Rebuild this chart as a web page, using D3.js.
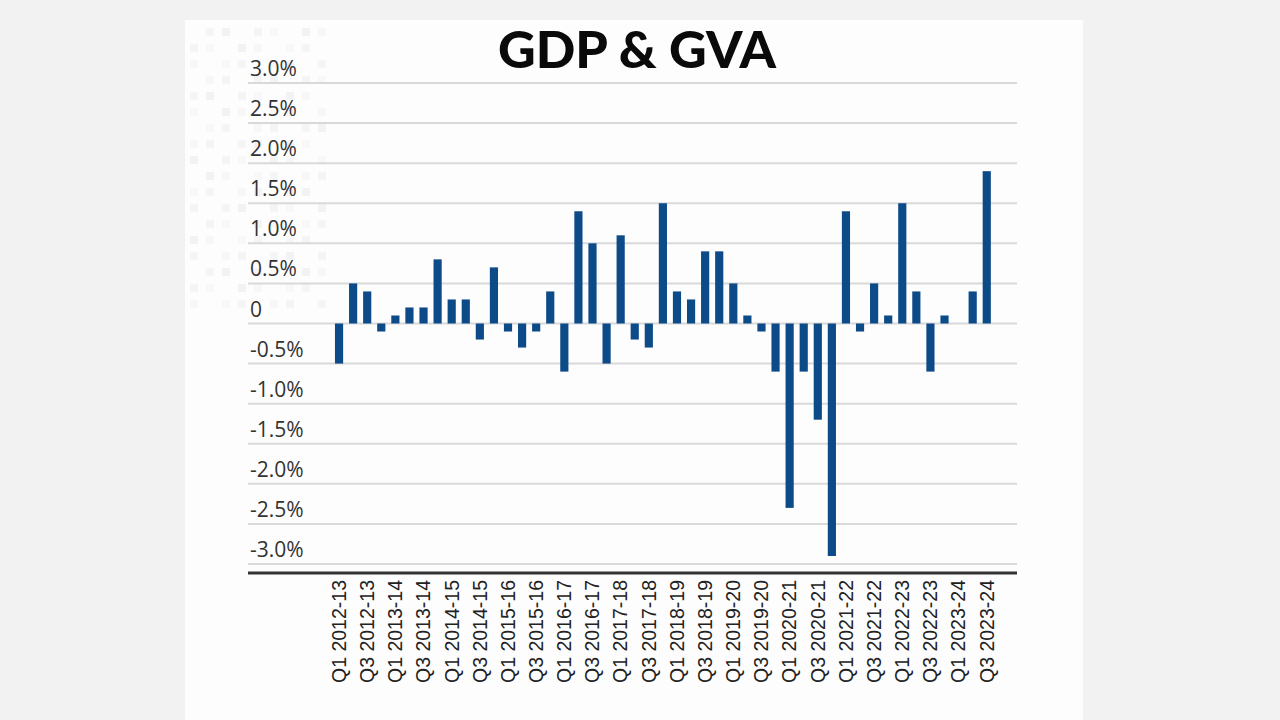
<!DOCTYPE html>
<html><head><meta charset="utf-8">
<script src="https://cdn.jsdelivr.net/npm/d3@7"></script>
<style>
html,body{margin:0;padding:0;background:#f2f2f2;}
svg{display:block;}
</style></head>
<body>
<svg id="chart" width="1280" height="720"></svg>
<script>
// ---- data ----
const title = "GDP & GVA";
const fiscalYears = ["2012-13","2013-14","2014-15","2015-16","2016-17","2017-18","2018-19","2019-20","2020-21","2021-22","2022-23","2023-24"];
const quarterNames = ["Q1","Q2","Q3","Q4"];
const values = [-0.5,0.5,0.4,-0.1,0.1,0.2,0.2,0.8,0.3,0.3,-0.2,0.7,-0.1,-0.3,-0.1,0.4,
  -0.6,1.4,1.0,-0.5,1.1,-0.2,-0.3,1.5,0.4,0.3,0.9,0.9,0.5,0.1,-0.1,-0.6,
  -2.3,-0.6,-1.2,-2.9,1.4,-0.1,0.5,0.1,1.5,0.4,-0.6,0.1,0,0.4,1.9];
const yTicks = [-3,-2.5,-2,-1.5,-1,-0.5,0,0.5,1,1.5,2,2.5,3];

const categories = [];
fiscalYears.forEach(fy => quarterNames.forEach(q => categories.push(q + " " + fy)));
const cats = categories.slice(0, values.length);
const data = cats.map((c,i)=>({cat:c, v:values[i]}));
const tickCats = cats.filter(c => c.startsWith("Q1") || c.startsWith("Q3"));

const svg = d3.select("#chart");

// background panel
svg.append("rect").attr("x",0).attr("y",0).attr("width",1280).attr("height",720).attr("fill","#f2f2f2");
svg.append("rect").attr("x",185).attr("y",20).attr("width",898).attr("height",700).attr("fill","#fdfdfd");

// faint dot texture top-left
const dots = svg.append("g").attr("fill","#f1f1f1");
for (let gx=0; gx<9; gx++) for (let gy=0; gy<18; gy++) {
  if ((gx+gy)%3===0) continue;
  dots.append("rect").attr("x",190+gx*16).attr("y",28+gy*16).attr("width",8).attr("height",8).attr("opacity", 0.4 + 0.6*((gx*7+gy*3)%5)/5);
}

const y = d3.scaleLinear().domain([-3,3]).range([564,83]);
const x = d3.scaleBand().domain(cats).range([332,993.8]).paddingInner(0.42).paddingOuter(0.21);

const gridX0 = 248, gridX1 = 1017;

// gridlines
svg.append("g").selectAll("line").data(yTicks).join("line")
  .attr("x1",gridX0).attr("x2",gridX1)
  .attr("y1",d=>y(d)).attr("y2",d=>y(d))
  .attr("stroke","#d9d9d9").attr("stroke-width",2);

// y labels
const fmt = d => d===0 ? "0" : (d<0?"-":"") + Math.abs(d).toFixed(1) + "%";
svg.append("g").selectAll("text").data(yTicks).join("text")
  .attr("x",250).attr("y",d=>y(d)-7)
  .attr("font-family","'Open Sans', 'Noto Sans', sans-serif")
  .attr("font-size",21).attr("fill","#333")
  .text(fmt);

// bars
svg.append("g").selectAll("rect").data(data).join("rect")
  .attr("x",d=>x(d.cat)).attr("width",x.bandwidth())
  .attr("y",d=>y(Math.max(0,d.v)))
  .attr("height",d=>Math.abs(y(d.v)-y(0)))
  .attr("fill","#0d4a88");

// baseline
svg.append("line").attr("x1",gridX0).attr("x2",gridX1).attr("y1",573).attr("y2",573)
  .attr("stroke","#333").attr("stroke-width",3);

// x axis labels
const xAxis = d3.axisBottom(x).tickValues(tickCats).tickSize(0).tickPadding(0);
const gx = svg.append("g").attr("transform","translate(0,573)").call(xAxis);
gx.select(".domain").remove();
gx.selectAll("text")
  .attr("font-family","'Liberation Sans', Arial, sans-serif")
  .attr("font-size",19.5).attr("fill","#222")
  .attr("transform","rotate(-90)")
  .attr("text-anchor","end")
  .attr("x",-7).attr("y",0).attr("dy","0.35em");

// title
svg.append("text").attr("x",637).attr("y",68)
  .attr("text-anchor","middle")
  .attr("font-family","Lato, 'Open Sans', sans-serif")
  .attr("font-weight",900).attr("font-size",52).attr("fill","#0a0a0a")
  .attr("textLength",278).attr("lengthAdjust","spacingAndGlyphs")
  .text(title);
</script>
</body></html>
